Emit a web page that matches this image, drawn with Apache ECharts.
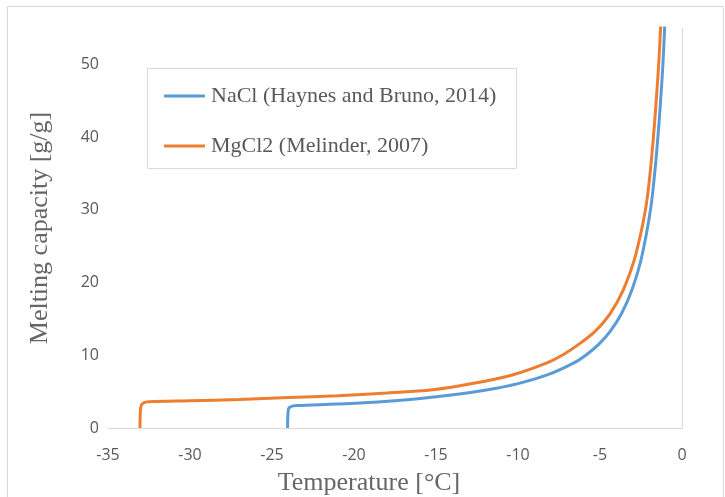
<!DOCTYPE html>
<html>
<head>
<meta charset="utf-8">
<script src="https://cdn.jsdelivr.net/npm/echarts@6/dist/echarts.min.js"></script>
<style>
  html, body { margin: 0; padding: 0; background: #fff; }
  #chart { width: 725px; height: 497px; }
</style>
</head>
<body>
<div id="chart"></div>
<script>
// NaCl melting capacity (g ice / g salt) vs temperature
const naclTemp = [-24.05, -24.0, -23.85, -23.5, -21.1, -18.77, -16.24, -13.94, -11.85, -9.94, -8.18, -6.56, -5.81, -5.08, -4.38, -3.70, -3.05, -2.41, -1.79, -1.19, -0.89];
const naclCap  = [0, 2.6, 2.95, 3.08, 3.29, 3.55, 4.0, 4.56, 5.25, 6.14, 7.33, 9.0, 10.11, 11.5, 13.29, 15.67, 19.0, 24.0, 32.3, 49.0, 65.7];

// MgCl2 melting capacity
const mgTemp = [-33.05, -33.0, -32.85, -32.5, -30, -27, -24, -21, -18, -15.2, -12.7, -10.3, -8.2, -7.23, -6.3, -5.3, -4.4, -3.58, -2.8, -2.08, -1.45, -1.11];
const mgCap  = [0, 2.9, 3.45, 3.62, 3.75, 3.92, 4.18, 4.45, 4.8, 5.25, 6.14, 7.33, 9.0, 10.11, 11.5, 13.29, 15.67, 19.0, 24.0, 32.3, 49.0, 65.7];

const seriesNames = ['NaCl (Haynes and Bruno, 2014)', 'MgCl2 (Melinder, 2007)'];
const xTicks = [-35, -30, -25, -20, -15, -10, -5, 0];
const yTicks = [0, 10, 20, 30, 40, 50];

const chart = echarts.init(document.getElementById('chart'));

const zip = (xs, ys) => xs.map((x, i) => [x, ys[i]]);

const tickFont = { fontFamily: 'Open Sans', fontSize: 16, color: '#595959' };
const titleFont = { fontFamily: 'Liberation Serif', fontSize: 26, color: '#666' };

const option = {
  animation: false,
  grid: { left: 108, right: 43, top: 28, bottom: 69, outerBoundsMode: 'none' },
  graphic: [
    // chart border
    { type: 'rect', left: 5, top: 4, shape: { width: 716, height: 500 },
      style: { fill: 'none', stroke: '#d9d9d9', lineWidth: 1 } },
    // legend box
    { type: 'rect', left: 147, top: 68, shape: { width: 369, height: 100 },
      style: { fill: '#fff', stroke: '#d9d9d9', lineWidth: 1 } }
  ],
  legend: {
    left: 164,
    top: 85,
    orient: 'vertical',
    padding: 0,
    itemGap: 28,
    itemWidth: 41,
    itemHeight: 3,
    icon: 'rect',
    textStyle: { fontFamily: 'Liberation Serif', fontSize: 22, color: '#595959', lineHeight: 22, padding: [0, 0, 0, 1] },
    data: seriesNames
  },
  xAxis: {
    type: 'value',
    min: xTicks[0],
    max: xTicks[xTicks.length - 1],
    interval: 5,
    name: 'Temperature [°C]',
    nameLocation: 'middle',
    nameGap: 42,
    nameTextStyle: Object.assign({ padding: [0, 52, 0, 0] }, titleFont),
    axisLine: { lineStyle: { color: '#d9d9d9', width: 1 } },
    axisTick: { show: false },
    splitLine: { show: false },
    axisLabel: Object.assign({ margin: 19 }, tickFont)
  },
  yAxis: {
    type: 'value',
    min: 0,
    max: 55,
    interval: 10,
    name: 'Melting capacity [g/g]',
    nameLocation: 'middle',
    nameGap: 55,
    nameTextStyle: titleFont,
    axisLine: { show: true, lineStyle: { color: '#d9d9d9', width: 1 } },
    axisTick: { show: false },
    splitLine: { show: false },
    axisLabel: Object.assign({
      margin: 9,
      showMaxLabel: false,
      formatter: v => (yTicks.indexOf(v) >= 0 ? String(v) : '')
    }, tickFont)
  },
  series: [
    {
      name: seriesNames[0],
      type: 'line',
      data: zip(naclTemp, naclCap),
      showSymbol: false,
      smooth: 0.3,
      lineStyle: { color: '#5b9bd5', width: 3 },
      itemStyle: { color: '#5b9bd5' },
      clip: true
    },
    {
      name: seriesNames[1],
      type: 'line',
      data: zip(mgTemp, mgCap),
      showSymbol: false,
      smooth: 0.3,
      lineStyle: { color: '#ed7d31', width: 3 },
      itemStyle: { color: '#ed7d31' },
      clip: true
    }
  ]
};

chart.setOption(option);
</script>
</body>
</html>
